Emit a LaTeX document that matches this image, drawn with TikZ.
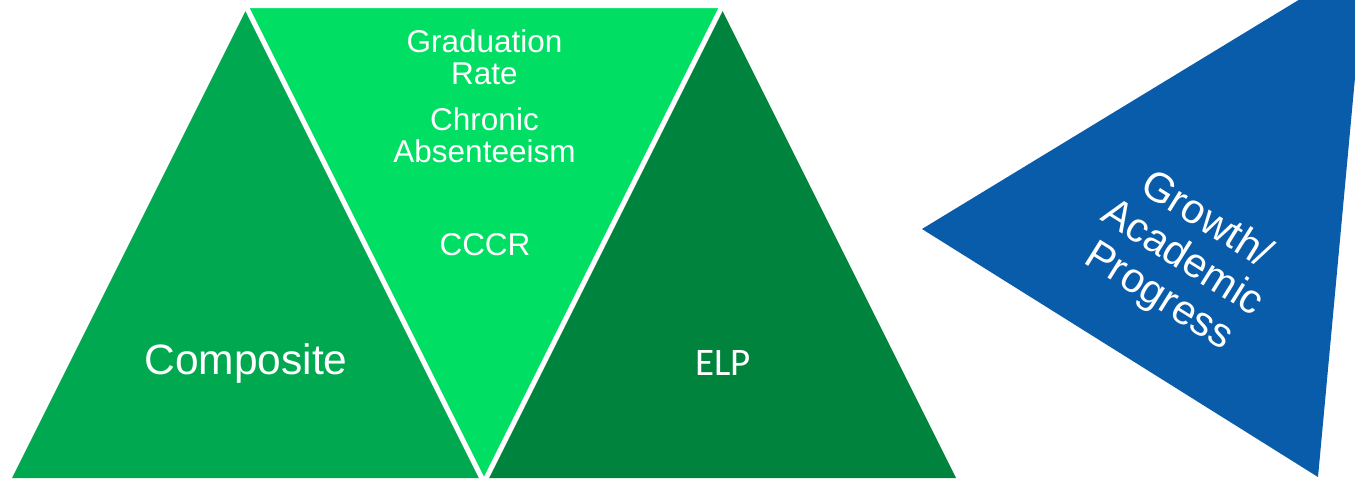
\documentclass[tikz,border=0pt]{standalone}
\usepackage{fontspec}
\setmainfont{Liberation Sans}
\newfontfamily\elpfont{Carlito}
\definecolor{greenleft}{RGB}{0,169,79}
\definecolor{greenmid}{RGB}{0,223,99}
\definecolor{greenright}{RGB}{0,132,61}
\definecolor{blueblock}{RGB}{8,92,170}
\tikzset{
  lbl/.style={text=white, inner sep=0pt, anchor=base},
  midlbl/.style={lbl, font=\fontsize{31.5}{32}\selectfont},
}
\begin{document}
\begin{tikzpicture}[x=1pt,y=-1pt]
  \useasboundingbox (0,0) rectangle (1355,479);
  \begin{scope}
    \clip (0,0) rectangle (1355,479);
    % upright side triangles
    \fill[greenleft]  (246,10) -- (480,478) -- (12,478) -- cycle;
    \fill[greenright] (722,10) -- (956,478) -- (488,478) -- cycle;
    % inverted middle triangle with white outline
    \filldraw[fill=greenmid, draw=white, line width=5pt, miter limit=20]
      (245.5,5.5) -- (722.5,5.5) -- (484,482.5) -- cycle;
    % blue triangle on the right
    \fill[blueblock] (922,229) -- (1366,-41) -- (1318,477) -- cycle;
  \end{scope}

  \node[midlbl] (grad1) at (484.5,52) {Graduation};
  \node[midlbl] (grad2) at (484.5,84) {Rate};
  \node[midlbl] (chron1) at (484.5,130) {Chronic};
  \node[midlbl] (chron2) at (484.5,162) {Absenteeism};
  \node[midlbl] (cccr) at (485,255) {CCCR};

  \node[lbl, font=\fontsize{42.5}{46}\selectfont] (composite) at (246,374) {Composite};
  \node[lbl, font=\elpfont\fontsize{39}{44}\selectfont] (elp) at (723,375) {ELP};

  \node[text=white, inner sep=0pt, align=center, rotate=-32,
        font=\fontsize{41.5}{45}\selectfont] (growth) at (1182,259)
        {Growth/\\Academic\\Progress};
\end{tikzpicture}
\end{document}
